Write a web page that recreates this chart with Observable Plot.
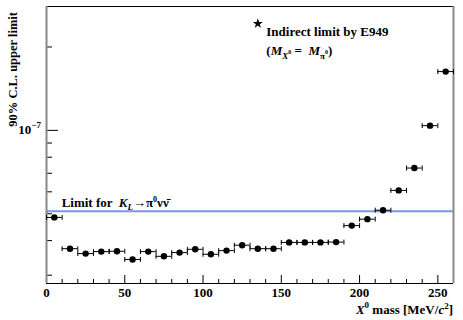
<!DOCTYPE html>
<html><head><meta charset="utf-8">
<script src="https://cdn.jsdelivr.net/npm/d3@7"></script>
<script src="https://cdn.jsdelivr.net/npm/@observablehq/plot@0.6"></script>
<style>body{margin:0;background:#fff}#chart svg{display:block}</style>
</head><body><div id="chart"></div>
<script>
// ---- data ----
const masses = [5,15,25,35,45,55,65,75,85,95,105,115,125,135,145,155,165,175,185,195,205,215,225,235,245,255];
const limits = [4.85e-8,3.74e-8,3.59e-8,3.65e-8,3.66e-8,3.42e-8,3.65e-8,3.51e-8,3.62e-8,3.72e-8,3.57e-8,3.68e-8,3.85e-8,3.74e-8,3.74e-8,3.94e-8,3.94e-8,3.94e-8,3.95e-8,4.53e-8,4.78e-8,5.15e-8,6.07e-8,7.31e-8,1.04e-7,1.63e-7];
const binHalfWidth = 5;
const klLimit = 5.1e-8;
const e949Mass = 135;
const e949Limit = 2.43e-7;
const xDomain = [0, 260];
const yDomain = [2.8e-8, 2.8e-7];
const xMajor = [0,50,100,150,200,250];
const xMinor = [10,20,30,40,60,70,80,90,110,120,130,140,160,170,180,190,210,220,230,240];
const yMajor = [1e-7];
const yMinor = [3e-8,4e-8,5e-8,6e-8,7e-8,8e-8,9e-8,2e-7];
const yTickLabelBase = "10", yTickLabelExp = "\u22127";
const yTitle = "90% C.L. upper limit";

const rows = masses.map((m, i) => ({m, v: limits[i], lo: m - binHalfWidth, hi: m + binHalfWidth}));

const FONT = "'Liberation Serif', 'Times New Roman', serif";
const W = 463, H = 320, ML = 46, MR = 10, MT = 6, MB = 37;
const frameW = W - ML - MR, frameH = H - MT - MB;

const capSymbol = {draw(ctx, size) { const r = Math.sqrt(size / Math.PI); ctx.moveTo(0, -r); ctx.lineTo(0, r); }};

const plot = Plot.plot({
  width: W, height: H,
  marginLeft: ML, marginRight: MR, marginTop: MT, marginBottom: MB,
  style: {fontFamily: FONT, background: "#fff"},
  x: {domain: xDomain},
  y: {type: "log", domain: yDomain, axis: null},
  marks: [
    Plot.ruleY([klLimit], {stroke: "#7894f0", strokeWidth: 2}),
    // inward ticks
    Plot.tickX(xMajor, {x: d => d, insetTop: frameH - 8, stroke: "#000"}),
    Plot.tickX(xMinor, {x: d => d, insetTop: frameH - 4, stroke: "#000"}),
    Plot.tickY(yMajor, {y: d => d, insetRight: frameW - 12, stroke: "#000"}),
    Plot.tickY(yMinor, {y: d => d, insetRight: frameW - 6, stroke: "#000"}),
    // frame
    Plot.ruleY([yDomain[1]], {stroke: "#000", strokeWidth: 1.2}),
    Plot.ruleY([yDomain[0]], {stroke: "#000", strokeWidth: 1.2}),
    Plot.ruleX([xDomain[0]], {stroke: "#888", strokeWidth: 2}),
    Plot.ruleX([xDomain[1]], {stroke: "#888", strokeWidth: 2}),
    // error bars
    Plot.ruleY(rows, {y: "v", x1: "lo", x2: "hi", stroke: "#000", strokeWidth: 1}),
    Plot.dot(rows, {x: "lo", y: "v", symbol: capSymbol, r: 2.5, stroke: "#000", fill: "none", strokeWidth: 1}),
    Plot.dot(rows, {x: "hi", y: "v", symbol: capSymbol, r: 2.5, stroke: "#000", fill: "none", strokeWidth: 1}),
    Plot.dot(rows, {x: "m", y: "v", r: 3.2, fill: "#000", stroke: null}),
    // E949 star
    Plot.dot([{m: e949Mass, v: e949Limit}], {x: "m", y: "v", symbol: "star", r: 3.2, fill: "#000", stroke: null}),
    // x tick labels
    Plot.axisX(xMajor, {tickSize: 0, tickPadding: 4, fontSize: 13, fontWeight: "bold", fontFamily: FONT, fontVariant: "normal", label: null})
  ]
});
document.getElementById("chart").appendChild(plot);

const sx = plot.scale("x"), sy = plot.scale("y");
const svg = d3.select(plot);
const g = svg.append("g").attr("font-family", FONT).attr("font-weight", "bold").attr("fill", "#000");

function rich(x, y, segs, {size = 13, anchor = "start", transform = null} = {}) {
  const t = g.append("text").attr("x", x).attr("y", y).attr("font-size", size).attr("text-anchor", anchor);
  if (transform) t.attr("transform", transform);
  let cur = 0;
  for (const s of segs) {
    const off = -(s.shift || 0);
    const ts = t.append("tspan").text(s.t).attr("dy", off - cur);
    cur = off;
    if (s.size) ts.attr("font-size", s.size);
    if (s.italic) ts.attr("font-style", "italic");
    if (s.dx) ts.attr("dx", s.dx);
  }
  return t;
}

// y tick label 10^-7
rich(41, sy.apply(yMajor[0]) + 4.5, [
  {t: yTickLabelBase}, {t: yTickLabelExp, size: 9, shift: 6}
], {size: 13, anchor: "end"});

// y title
rich(17, 12, [{t: yTitle}], {size: 12.5, anchor: "end", transform: "rotate(-90,17,12)"});

// x title
rich(ML + frameW, 314, [
  {t: "X", italic: true}, {t: "0", size: 9, shift: 6}, {t: " mass [MeV/"}, {t: "c", italic: true}, {t: "2", size: 9, shift: 5}, {t: "]"}
], {size: 13, anchor: "end"});

// KL limit label
rich(sx.apply(10), sy.apply(klLimit) - 4, [
  {t: "Limit for  "}, {t: "K", italic: true}, {t: "L", italic: true, size: 9, shift: -3}, {t: "\u2192\u03C0"}, {t: "0", size: 8, shift: 5}, {t: "\u03BD\u03BD\u0304"}
], {size: 13});

// E949 label
const sxS = sx.apply(e949Mass), syS = sy.apply(e949Limit);
rich(sxS + 9, syS + 13, [{t: "Indirect limit by E949"}], {size: 13});
rich(sxS + 9, syS + 32, [
  {t: "("}, {t: "M", italic: true}, {t: "X", italic: true, size: 9, shift: -4}, {t: "0", size: 6, shift: 1}, {t: " =  "},
  {t: "M", italic: true}, {t: "\u03C0", size: 9, shift: -4}, {t: "0", size: 6, shift: 1}, {t: ")"}
], {size: 13});
</script>
</body></html>
